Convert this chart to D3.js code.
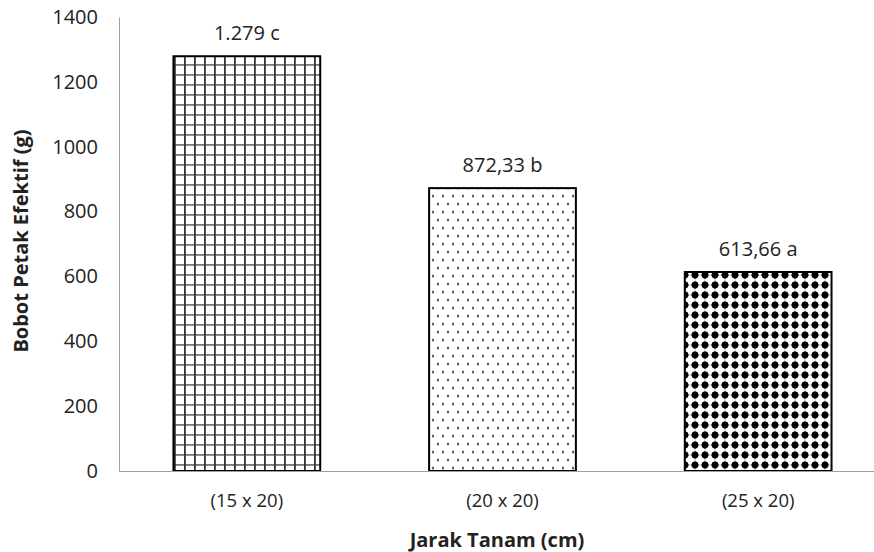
<!DOCTYPE html>
<html>
<head>
<meta charset="utf-8">
<script src="https://cdn.jsdelivr.net/npm/d3@7"></script>
<style>
  body { margin: 0; background: #fff; }
  svg { display: block; }
  text { font-family: "Open Sans", "Liberation Sans", sans-serif; fill: #222; }
</style>
</head>
<body>
<svg id="chart"></svg>
<script>
const SVG_WIDTH = 874;
const SVG_HEIGHT = 552;
const PLOT_LEFT = 119;
const PLOT_RIGHT = 886;
const PLOT_TOP = 17;
const PLOT_BOTTOM = 471;

// data
const categories = ["(15 x 20)", "(20 x 20)", "(25 x 20)"];
const values = [1279, 872.33, 613.66];
const valueLabels = ["1.279 c", "872,33 b", "613,66 a"];
const yTicks = [0, 200, 400, 600, 800, 1000, 1200, 1400];
const patterns = ["grid", "dots", "beads"];

const svg = d3.select("#chart").attr("width", SVG_WIDTH).attr("height", SVG_HEIGHT);
const defs = svg.append("defs");

// square grid hatch
const pGrid = defs.append("pattern").attr("id", "grid")
  .attr("patternUnits", "userSpaceOnUse").attr("width", 10).attr("height", 10);
pGrid.append("rect").attr("width", 10).attr("height", 10).attr("fill", "#fff");
pGrid.append("rect").attr("x", 0).attr("y", 4).attr("width", 10).attr("height", 1.8).attr("fill", "#777");
pGrid.append("rect").attr("x", 4).attr("y", 0).attr("width", 1.8).attr("height", 10).attr("fill", "#333");

// small staggered dots
const pDots = defs.append("pattern").attr("id", "dots")
  .attr("patternUnits", "userSpaceOnUse").attr("width", 10).attr("height", 16);
pDots.append("rect").attr("width", 10).attr("height", 16).attr("fill", "#fff");
pDots.append("ellipse").attr("cx", 3).attr("cy", 4).attr("rx", 1.1).attr("ry", 1.6).attr("fill", "#555");
pDots.append("ellipse").attr("cx", 8).attr("cy", 12).attr("rx", 1.1).attr("ry", 1.6).attr("fill", "#555");

// big black beads
const pBeads = defs.append("pattern").attr("id", "beads")
  .attr("patternUnits", "userSpaceOnUse").attr("width", 10).attr("height", 10);
pBeads.append("rect").attr("width", 10).attr("height", 10).attr("fill", "#fff");
pBeads.append("circle").attr("cx", 5).attr("cy", 5).attr("r", 3.4).attr("fill", "#000");
pBeads.append("path").attr("d", "M5,0 L6.2,5 L5,10 L3.8,5 Z").attr("fill", "#000");
pBeads.append("path").attr("d", "M0,5 L5,3.8 L10,5 L5,6.2 Z").attr("fill", "#000");

const xScale = d3.scaleBand().domain(categories)
  .range([PLOT_LEFT, PLOT_RIGHT]).paddingInner(0.426).paddingOuter(0.213);
const yScale = d3.scaleLinear().domain([0, 1400]).range([PLOT_BOTTOM, PLOT_TOP]);

// Draw bars
svg.append("g").selectAll("rect")
  .data(values)
  .enter()
  .append("rect")
  .attr("x", function(d, i) {return xScale(categories[i])})
  .attr("y", function(d) {return yScale(d)})
  .attr("width", xScale.bandwidth())
  .attr("height", function(d) {return PLOT_BOTTOM - yScale(d)})
  .attr("fill", function(d, i) {return "url(#" + patterns[i] + ")"})
  .attr("stroke", "#000")
  .attr("stroke-width", 2);

// value labels
svg.append("g").selectAll("text")
  .data(values)
  .enter()
  .append("text")
  .attr("x", function(d, i) {return xScale(categories[i]) + xScale.bandwidth() / 2})
  .attr("y", function(d) {return yScale(d) - 16})
  .attr("text-anchor", "middle")
  .style("font-size", "20px")
  .text(function(d, i) {return valueLabels[i]});

// Draw Y-axis
const yAxis = d3.axisLeft(yScale).tickValues(yTicks).tickSize(0).tickPadding(21).tickFormat(d3.format("d"));
const yAxisArea = svg.append("g").attr("transform", "translate(" + PLOT_LEFT + ",0)").call(yAxis);
yAxisArea.select(".domain").attr("stroke", "#a0a0a0");
yAxisArea.selectAll("text").style("font-size", "20px").style("font-family", "\"Open Sans\", sans-serif").attr("fill", "#222");

// Draw X-axis
const xAxis = d3.axisBottom(xScale).tickSize(0).tickPadding(23);
const xAxisArea = svg.append("g").attr("transform", "translate(0," + PLOT_BOTTOM + ")").call(xAxis);
xAxisArea.select(".domain").attr("stroke", "#a0a0a0");
xAxisArea.selectAll("text").style("font-size", "18.5px").style("font-family", "\"Open Sans\", sans-serif").attr("fill", "#333");

// axis titles
svg.append("text")
  .attr("transform", "translate(28,241) rotate(-90)")
  .attr("text-anchor", "middle")
  .style("font-size", "20px").style("font-weight", "bold")
  .text("Bobot Petak Efektif (g)");

svg.append("text")
  .attr("x", 497).attr("y", 547)
  .attr("text-anchor", "middle")
  .style("font-size", "20px").style("font-weight", "bold")
  .text("Jarak Tanam (cm)");
</script>
</body>
</html>
